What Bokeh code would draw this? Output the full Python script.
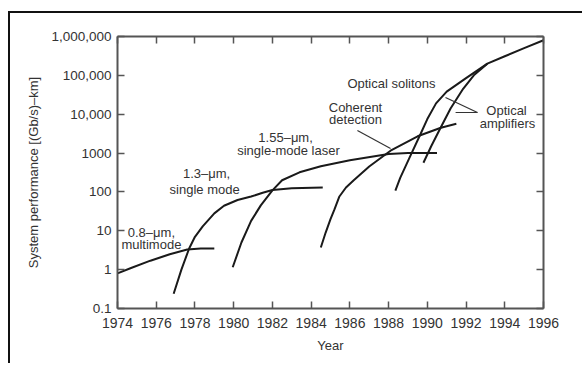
from bokeh.plotting import figure
from bokeh.models import Range1d, FixedTicker, LinearAxis, LogAxis, ColumnDataSource
from bokeh.embed import file_html
from bokeh.resources import INLINE

# ---------------- data ----------------
x_ticks = [1974, 1976, 1978, 1980, 1982, 1984, 1986, 1988, 1990, 1992, 1994, 1996]
y_ticks = [0.1, 1, 10, 100, 1000, 10000, 100000, 1000000]
y_tick_labels = ["0.1", "1", "10", "100", "1000", "10,000", "100,000", "1,000,000"]

mm08_year = [1974.0, 1974.7, 1975.7, 1976.7, 1977.6, 1978.3, 1979.0]
mm08_value = [0.8, 1.1, 1.7, 2.5, 3.3, 3.5, 3.5]

sm13_year = [1976.9, 1977.3, 1977.7, 1978.0, 1978.4, 1979.0, 1979.5, 1980.2, 1980.9, 1981.5, 1982.0, 1983.0, 1984.6]
sm13_value = [0.24, 1.0, 3.5, 7, 13, 28, 44, 62, 76, 95, 112, 125, 130]

laser155_year = [1979.95, 1980.4, 1980.9, 1981.4, 1982.0, 1982.5, 1983.4, 1984.5, 1986.0, 1988.0, 1989.0, 1990.5]
laser155_value = [1.15, 5, 18, 45, 110, 200, 320, 460, 650, 950, 1000, 1000]

coherent_year = [1984.5, 1984.75, 1985.0, 1985.2, 1985.45, 1985.8, 1986.2, 1987.0, 1988.1, 1989.5, 1990.7, 1991.5]
coherent_value = [3.7, 9, 20, 35, 75, 130, 200, 450, 1150, 2700, 4500, 5700]

ampA_year = [1988.35, 1988.6, 1989.1, 1989.65, 1990.0, 1990.45, 1991.0, 1992.0, 1993.1, 1994.0, 1995.0, 1996.0]
ampA_value = [108, 230, 800, 3100, 7500, 19000, 38000, 85000, 200000, 310000, 500000, 800000]

ampB_year = [1989.8, 1990.2, 1990.6, 1991.2, 1991.85, 1992.4, 1993.1]
ampB_value = [565, 1500, 3700, 14000, 45000, 100000, 200000]

label_text = ["0.8–μm,", "multimode", "1.3–μm,", "single mode", "1.55–μm,", "single-mode laser",
              "Coherent", "detection", "Optical solitons", "Optical", "amplifiers"]
label_year = [1975.75, 1975.75, 1978.6, 1978.5, 1982.68, 1982.83, 1986.29, 1986.29, 1988.15, 1994.09, 1994.14]
label_value = [9.0, 4.4, 298, 116, 2520, 1165, 14900, 7310, 61700, 12470, 5770]

leader_years = [[1986.39, 1988.10], [1992.59, 1990.94], [1992.59, 1991.46]]
leader_values = [[3810, 1312], [11070, 26900], [11070, 11070]]

# ---------------- figure ----------------
FONT = "Liberation Sans"
TEXT = "#333333"
AX = "#555555"

p = figure(width=574, height=352, x_range=Range1d(1974, 1996), y_range=Range1d(0.1, 1e6),
           y_axis_type="log", output_backend="svg", toolbar_location=None,
           min_border_left=107, min_border_right=41, min_border_top=23, min_border_bottom=57)
p.styles = {"border-top": "2px solid #111111", "border-left": "2px solid #111111",
            "margin-top": "11px", "margin-left": "8px"}
p.grid.visible = False
p.outline_line_color = None
p.background_fill_color = "white"
p.border_fill_color = "white"

bottom_axis = p.below[0]
left_axis = p.left[0]
top_axis = LinearAxis()
right_axis = LogAxis()
p.add_layout(top_axis, "above")
p.add_layout(right_axis, "right")

for ax in [bottom_axis, top_axis]:
    ax.ticker = FixedTicker(ticks=x_ticks)
for ax in [left_axis, right_axis]:
    ax.ticker = FixedTicker(ticks=y_ticks)

left_axis.major_label_overrides = {t: s for t, s in zip(y_ticks, y_tick_labels)}
bottom_axis.major_label_overrides = {t: str(t) for t in x_ticks}
top_axis.major_label_overrides = {t: "" for t in x_ticks}
right_axis.major_label_overrides = {t: "" for t in y_ticks}

for ax in [bottom_axis, left_axis, top_axis, right_axis]:
    ax.axis_line_color = AX
    ax.axis_line_width = 2
    ax.major_tick_line_color = AX
    ax.major_tick_line_width = 1.5
    ax.major_tick_in = 7
    ax.major_tick_out = 0
    ax.minor_tick_line_color = None
    ax.major_label_text_font = FONT
    ax.major_label_text_color = TEXT
    ax.axis_label_text_font = FONT
    ax.axis_label_text_font_style = "normal"
    ax.axis_label_text_color = TEXT

for ax in [top_axis, right_axis]:
    ax.major_label_standoff = 0

bottom_axis.major_label_text_font_size = "14px"
bottom_axis.major_label_standoff = 9
left_axis.major_label_text_font_size = "13.5px"
left_axis.major_label_standoff = 6

bottom_axis.axis_label = "Year"
bottom_axis.axis_label_text_font_size = "13px"
bottom_axis.axis_label_standoff = 7
left_axis.axis_label = "System performance [(Gb/s)–km]"
left_axis.axis_label_text_font_size = "13px"
left_axis.axis_label_standoff = 7

curves = [(mm08_year, mm08_value), (sm13_year, sm13_value), (laser155_year, laser155_value),
          (coherent_year, coherent_value), (ampA_year, ampA_value), (ampB_year, ampB_value)]
for xs, ys in curves:
    p.line(xs, ys, line_color="#1a1a1a", line_width=2)

p.multi_line(leader_years, leader_values, line_color="#333333", line_width=1.2)

src = ColumnDataSource(dict(x=label_year, y=label_value, t=label_text))
p.text(x="x", y="y", text="t", source=src, text_align="center", text_baseline="middle",
       text_font={"value": FONT}, text_font_size={"value": "13px"}, text_color=TEXT)

open("out.html", "w").write(file_html(p, INLINE))
